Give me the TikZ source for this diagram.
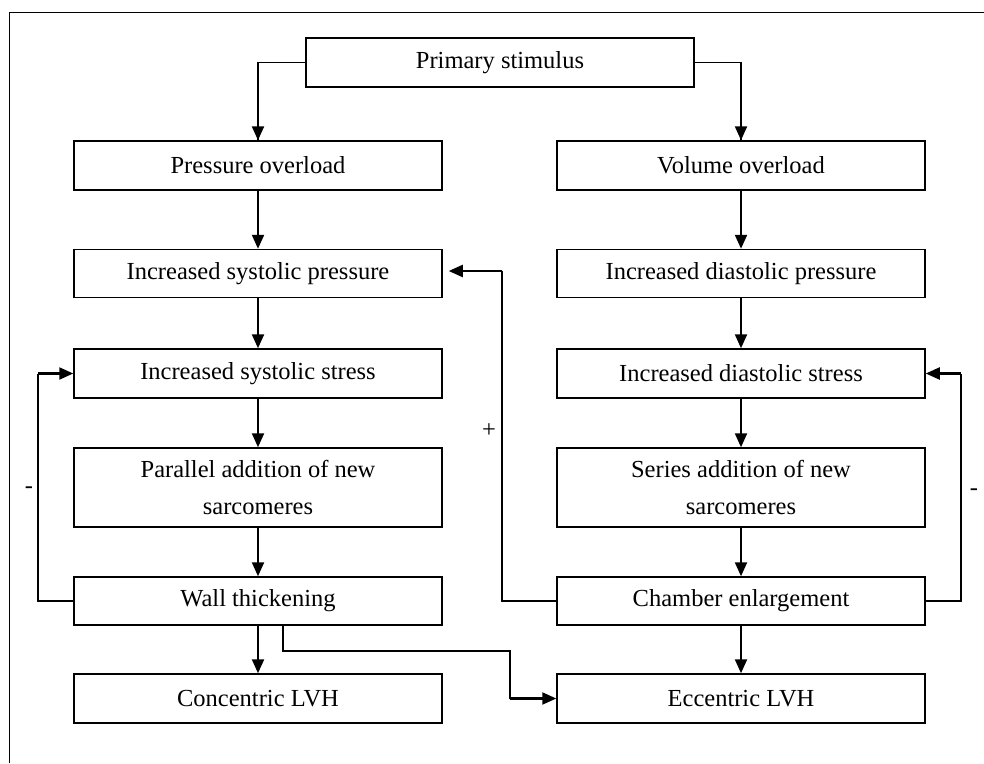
\documentclass[tikz,border=0pt]{standalone}
\usepackage{fontspec}
\setmainfont{Liberation Serif}
\usetikzlibrary{arrows.meta}
\begin{document}
\begin{tikzpicture}[x=1pt,y=-1pt,
  box/.style={draw,line width=1.5pt,minimum width=368pt,minimum height=49pt,inner sep=0pt,
    align=center,font=\fontsize{24.5}{37}\selectfont},
  thinline/.style={line width=1.1pt},
  arrowline/.style={line width=2.2pt,-{Triangle[length=14pt,width=12pt]}},
  lbl/.style={font=\fontsize{24.5}{30}\selectfont,inner sep=0pt}]
\useasboundingbox (0,0) rectangle (984,763);
\draw[line width=1.2pt] (9.5,763) -- (9.5,12.5) -- (984,12.5);
% nodes
\node[box,minimum width=388pt] (prim) at (500,62.5) {Primary stimulus};
\node[box] (pres) at (258,165.5) {Pressure overload};
\node[box] (vol) at (741,165.5) {Volume overload};
\node[box,minimum height=48pt] (ssp) at (258,273.5) {Increased systolic pressure};
\node[box,minimum height=48pt] (dsp) at (741,273.5) {Increased diastolic pressure};
\node[box,minimum height=49pt] (sst) at (258,373.5) {Increased systolic stress};
\node[box,minimum height=49pt] (dst) at (741,373.5) {Increased diastolic stress};
\node[box,minimum height=79pt] (par) at (258,487.5) {Parallel addition of new\\sarcomeres};
\node[box,minimum height=79pt] (ser) at (741,487.5) {Series addition of new\\sarcomeres};
\node[box,minimum height=48pt] (wall) at (258,601) {Wall thickening};
\node[box,minimum height=48pt] (cham) at (741,601) {Chamber enlargement};
\node[box] (conc) at (258,698.5) {Concentric LVH};
\node[box] (ecc) at (741,698.5) {Eccentric LVH};
% top split
\draw[thinline] (prim.west) -| (pres.north);
\draw[arrowline] (prim.west -| pres.north) -- (pres.north);
\draw[thinline] (prim.east) -| (vol.north);
\draw[arrowline] (prim.east -| vol.north) -- (vol.north);
% columns
\draw[arrowline] (pres) -- (ssp);
\draw[arrowline] (ssp) -- (sst);
\draw[arrowline] (sst) -- (par);
\draw[arrowline] (par) -- (wall);
\draw[arrowline] (wall) -- (conc);
\draw[arrowline] (vol) -- (dsp);
\draw[arrowline] (dsp) -- (dst);
\draw[arrowline] (dst) -- (ser);
\draw[arrowline] (ser) -- (cham);
\draw[arrowline] (cham) -- (ecc);
% left feedback
\coordinate (fbL) at (38,373.5);
\draw[thinline] (wall.west) -| (fbL);
\draw[arrowline] (fbL) -- (sst.west);
\node[lbl] (mL) at (29,490) {-};
% right feedback
\coordinate (fbR) at (961,373.5);
\draw[thinline] (cham.east) -| (fbR);
\draw[arrowline] (fbR) -- (dst.east);
\node[lbl] (mR) at (974,492) {-};
% middle feedback
\coordinate (fbM) at (502,271);
\draw[thinline] (cham.west) -| (fbM);
\draw[arrowline,shorten >=6pt] (fbM) -- (fbM -| ssp.east);
\node[lbl] (plus) at (489,431) {+};
% wall -> eccentric
\coordinate (we1) at (283,651);
\coordinate (we2) at (510,651);
\coordinate (we3) at (510,698.5);
\draw[thinline] (wall.south -| we1) -- (we1) -- (we2) -- (we3);
\draw[arrowline] (we3) -- (ecc.west);
\end{tikzpicture}
\end{document}
